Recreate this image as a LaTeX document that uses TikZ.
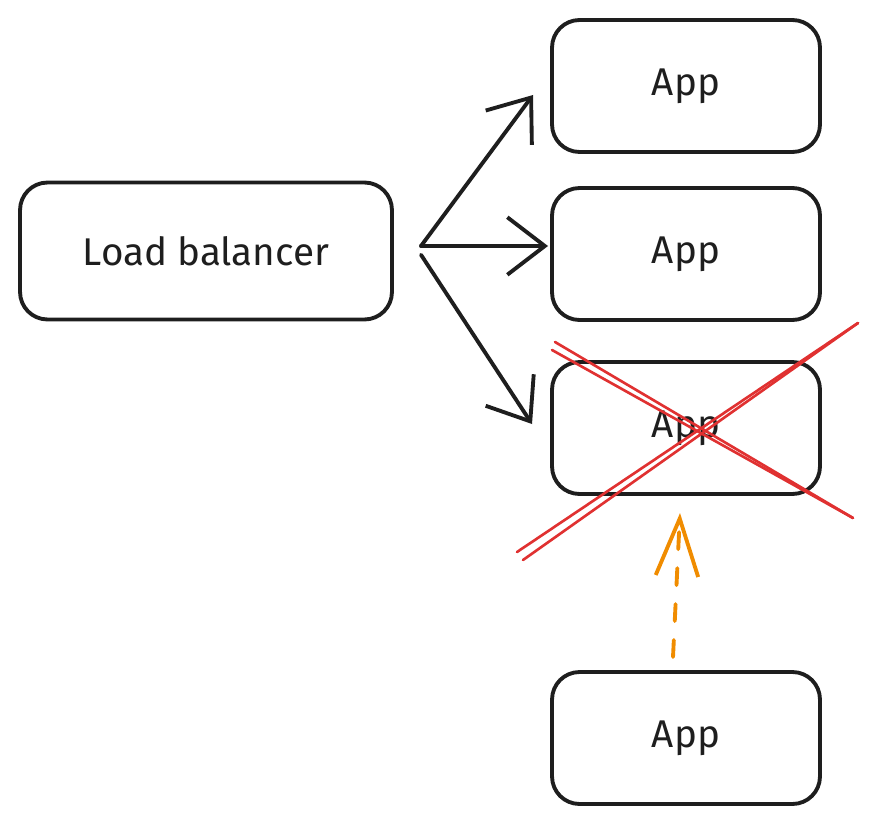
\documentclass[tikz,border=0pt]{standalone}
\usepackage{fontspec}
\setmainfont{Fira Sans}
\usetikzlibrary{arrows.meta,positioning}
\definecolor{inkblack}{HTML}{1E1E1E}
\definecolor{crossred}{HTML}{E03131}
\definecolor{spareorange}{HTML}{F08C00}

\begin{document}
\begin{tikzpicture}[x=0.02cm,y=-0.02cm,font=\fontsize{22}{26}\selectfont,
        box/.style={draw=inkblack,line width=2.2pt,rounded corners=0.55cm,text=inkblack,
          minimum width=5.36cm,minimum height=2.64cm},
        route/.style={draw=inkblack,line width=2.2pt,line cap=round,
          -{Straight Barb[length=0.75cm,width=1.15cm,line width=2.2pt]}},
        cross/.style={draw=crossred,line width=1.5pt,line cap=round}]
        \useasboundingbox (0,0) rectangle (878,824);
        \node[box,minimum width=7.44cm,minimum height=2.74cm] (lb) at (206,251) {Load balancer};
        \node[box] (app1) at (686,86) {App};
        \node[box] (app2) at (686,254) {App};
        \node[box] (app3) at (686,428) {App};
        \node[box] (app4) at (686,738) {App};
        % fan out from the balancer
        \coordinate (lbout) at (421,246);
        \coordinate (in1) at (533,95);
        \coordinate (in2) at (548,246);
        \coordinate (in3) at (532,424);
        \draw[route] (lbout) -- (in1);
        \draw[route] (lbout) -- (in2);
        \draw[route] ([yshift=-5]lbout) -- (in3);
        % failed instance
        \draw[cross] (555,342) -- (853,518);
        \draw[cross] (552,350) -- (853,518);
        \draw[cross] (517,552) -- (858,323);
        \draw[cross] (523,560) -- (858,323);
        % replacement
        \coordinate (up) at (673,657);
        \coordinate (down) at (680,513);
        \draw[spareorange,line width=2.2pt,line cap=round,dash pattern=on 0.34cm off 0.38cm,
          -{Straight Barb[length=1.15cm,width=0.85cm,line width=2.2pt]}] (up) -- (down);
      \end{tikzpicture}
\end{document}
